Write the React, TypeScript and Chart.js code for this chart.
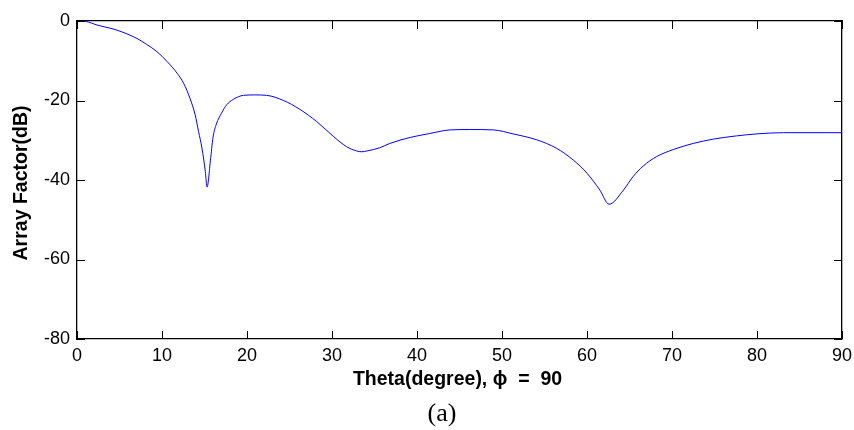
import React, { useEffect, useRef } from "react";
import { Chart, registerables } from "chart.js";

Chart.register(...registerables);

const theta = [0, 1, 2.35, 4.7, 7.06, 8.2, 9.4, 10.6, 11.8, 12.55, 13.3, 13.9, 14.3, 14.7, 15.1, 15.3, 15.7, 16.0, 16.4, 17.0, 17.6, 18.4, 19.6, 20.9, 22.3, 24.3, 26.2, 28.2, 30.2, 31.7, 32.9, 33.5, 34.1, 35.6, 36.8, 39.2, 41.5, 43.9, 46.2, 49.0, 51.3, 54.1, 56.4, 58.4, 60.0, 61.5, 62.6, 64.3, 65.4, 66.6, 68.2, 70.2, 72.5, 74.9, 77.6, 80.0, 83.1, 86, 90];
const arrayFactorDb = [0, -0.1, -1.0, -2.3, -4.4, -5.9, -7.7, -10.2, -13.2, -15.7, -19.5, -23.6, -27.8, -32.0, -37.9, -41.8, -35.0, -29.3, -25.9, -23.2, -21.1, -19.7, -18.7, -18.6, -18.7, -20.0, -22.2, -25.3, -29.1, -31.6, -32.7, -32.9, -32.7, -31.9, -30.8, -29.3, -28.3, -27.4, -27.3, -27.4, -28.4, -29.9, -32.0, -35.0, -38.3, -42.5, -46.1, -42.5, -39.2, -36.5, -34.1, -32.3, -30.8, -29.7, -28.9, -28.4, -28.1, -28.1, -28.1];
const xTicks = [0, 10, 20, 30, 40, 50, 60, 70, 80, 90];
const yTicks = [0, -20, -40, -60, -80];
const xTitle = "Theta(degree), \u03d5  =  90";
const yTitle = "Array Factor(dB)";
const caption = "(a)";

const tickFont = { family: "'Liberation Sans', Arial, sans-serif", size: 18 };

export default function App() {
  const ref = useRef<HTMLCanvasElement | null>(null);
  useEffect(() => {
    if (!ref.current) return;
    const framePlugin = {
      id: "frame",
      afterDraw(chart: any) {
        const { ctx, chartArea: a, scales } = chart;
        const xs = scales.x, ys = scales.y;
        ctx.save();
        ctx.setLineDash([]);
        ctx.globalAlpha = 1;
        ctx.strokeStyle = "rgb(0,0,0)";
        const L = a.left, R = a.right, T = a.top, B = a.bottom;
        ctx.lineWidth = 1;
        const tl = 8;
        ctx.beginPath();
        xTicks.forEach((v) => {
          const px = Math.round(xs.getPixelForValue(v)) + 0.5;
          ctx.moveTo(px, B); ctx.lineTo(px, B - tl);
          ctx.moveTo(px, T); ctx.lineTo(px, T + tl);
        });
        yTicks.forEach((v) => {
          const py = Math.round(ys.getPixelForValue(v)) + 0.5;
          ctx.moveTo(L, py); ctx.lineTo(L + tl, py);
          ctx.moveTo(R, py); ctx.lineTo(R - tl, py);
        });
        ctx.stroke();
        ctx.fillStyle = "#000";
        ctx.textAlign = "center";
        ctx.textBaseline = "middle";
        ctx.font = "bold 19.5px 'Liberation Sans', Arial, sans-serif";
        ctx.fillText(xTitle, (a.left + a.right) / 2 - 2, 380);
        ctx.save();
        ctx.translate(22, (a.top + a.bottom) / 2 + 3);
        ctx.rotate(-Math.PI / 2);
        ctx.fillText(yTitle, 0, 0);
        ctx.restore();
        ctx.font = "26px 'Liberation Serif', 'Times New Roman', serif";
        ctx.fillText(caption, 442, 414);
        ctx.restore();
      },
    };
    const chart = new Chart(ref.current, {
      type: "line",
      data: {
        datasets: [
          {
            data: theta.map((t, i) => ({ x: t, y: arrayFactorDb[i] })),
            borderColor: "#0000ff",
            borderWidth: 1,
            pointRadius: 0,
            fill: false,
            cubicInterpolationMode: "monotone",
          },
        ],
      },
      options: {
        animation: false,
        responsive: false,
        maintainAspectRatio: false,
        layout: { padding: { left: 0, right: 12, top: 21, bottom: 0 } },
        plugins: { legend: { display: false }, tooltip: { enabled: false } },
        scales: {
          x: {
            type: "linear",
            min: 0,
            max: 90,
            afterBuildTicks: (s: any) => { s.ticks = xTicks.map((v) => ({ value: v })); },
            afterFit: (s: any) => { s.height = 91; s.paddingLeft = 0; s.paddingRight = 0; },
            grid: { display: false, drawTicks: false },
            border: { display: true, color: "#000", width: 1.3 },
            ticks: { color: "#000", padding: 6, maxRotation: 0, autoSkip: false, font: tickFont },
          },
          x2: {
            type: "linear",
            position: "top",
            min: 0,
            max: 90,
            afterFit: (s: any) => { s.height = 0; s.paddingLeft = 0; s.paddingRight = 0; },
            grid: { display: false, drawTicks: false },
            border: { display: true, color: "#000", width: 1.3 },
            ticks: { display: false },
          },
          y: {
            type: "linear",
            min: -80,
            max: 0,
            afterBuildTicks: (s: any) => { s.ticks = yTicks.map((v) => ({ value: v })); },
            afterFit: (s: any) => { s.width = 77; s.paddingTop = 0; s.paddingBottom = 0; },
            grid: { display: false, drawTicks: false },
            border: { display: true, color: "#000", width: 1.3 },
            ticks: { color: "#000", padding: 7, autoSkip: false, font: tickFont },
          },
          y2: {
            type: "linear",
            position: "right",
            min: -80,
            max: 0,
            afterFit: (s: any) => { s.width = 0; s.paddingTop = 0; s.paddingBottom = 0; },
            grid: { display: false, drawTicks: false },
            border: { display: true, color: "#000", width: 1.3 },
            ticks: { display: false },
          },
        },
      },
      plugins: [framePlugin],
    });
    return () => chart.destroy();
  }, []);
  return (
    <div style={{ position: "absolute", left: 0, top: 0, width: 854, height: 430, background: "#fff" }}>
      <canvas ref={ref} width={854} height={430} style={{ width: 854, height: 430 }} />
    </div>
  );
}
